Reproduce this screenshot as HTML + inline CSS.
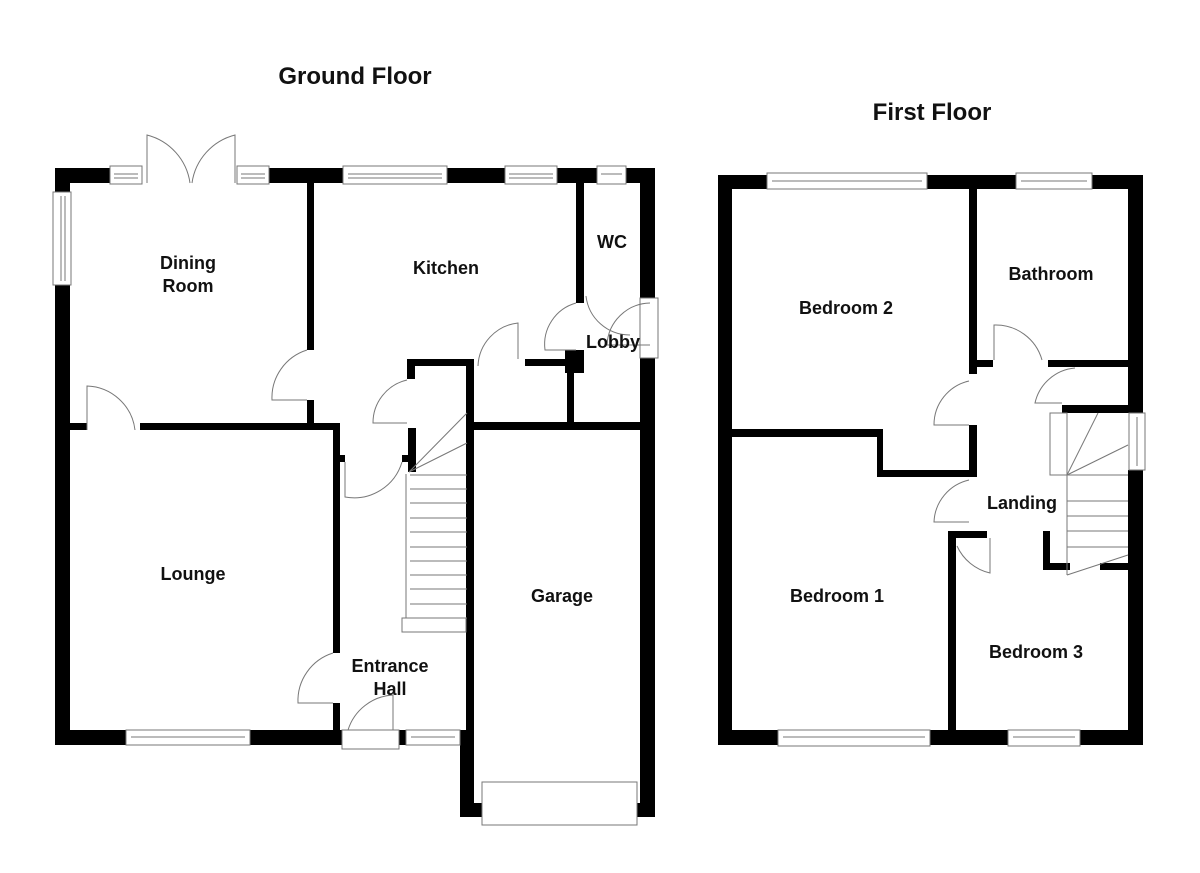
<!DOCTYPE html>
<html><head><style>
html,body{margin:0;padding:0;background:#fff;}
svg{display:block}
text{font-family:"Liberation Sans",Arial,sans-serif;font-weight:bold;fill:#111;}
</style></head><body>
<svg width="1200" height="873" viewBox="0 0 1200 873" xmlns="http://www.w3.org/2000/svg">
<text x="355" y="84" font-size="24" text-anchor="middle">Ground Floor</text>
<text x="932" y="120" font-size="24" text-anchor="middle">First Floor</text>

<g fill="#000">
<!-- Ground floor outer -->
<rect x="55" y="168" width="55" height="15"/>
<rect x="269" y="168" width="74" height="15"/>
<rect x="447" y="168" width="58" height="15"/>
<rect x="557" y="168" width="40" height="15"/>
<rect x="626" y="168" width="29" height="15"/>
<rect x="55" y="168" width="15" height="24"/>
<rect x="55" y="285" width="15" height="460"/>
<rect x="55" y="730" width="71" height="15"/>
<rect x="250" y="730" width="92" height="15"/>
<rect x="399" y="730" width="7" height="15"/>
<rect x="640" y="168" width="15" height="130"/>
<rect x="640" y="358" width="15" height="459"/>
<rect x="460" y="730" width="14" height="87"/>
<rect x="460" y="803" width="22" height="14"/>
<rect x="637" y="803" width="18" height="14"/>
<!-- interior -->
<rect x="307" y="183" width="7" height="167"/>
<rect x="307" y="400" width="7" height="30"/>
<rect x="70" y="423" width="17" height="7"/>
<rect x="140" y="423" width="200" height="7"/>
<rect x="333" y="423" width="7" height="230"/>
<rect x="333" y="703" width="7" height="40"/>
<rect x="340" y="455" width="5" height="7"/>
<rect x="402" y="455" width="6" height="7"/>
<rect x="407" y="359" width="61" height="7"/>
<rect x="407" y="359" width="8" height="20"/>
<rect x="408" y="428" width="8" height="44"/>
<rect x="466" y="359" width="8" height="458"/>
<rect x="474" y="422" width="166" height="8"/>
<rect x="567" y="366" width="7" height="56"/>
<rect x="525" y="359" width="40" height="7"/>
<rect x="565" y="350" width="19" height="23"/>
<rect x="576" y="183" width="8" height="120"/>
<!-- First floor outer -->
<rect x="718" y="175" width="49" height="14"/>
<rect x="927" y="175" width="89" height="14"/>
<rect x="1092" y="175" width="51" height="14"/>
<rect x="718" y="175" width="14" height="570"/>
<rect x="1128" y="175" width="15" height="238"/>
<rect x="1128" y="470" width="15" height="275"/>
<rect x="718" y="730" width="60" height="15"/>
<rect x="930" y="730" width="78" height="15"/>
<rect x="1080" y="730" width="63" height="15"/>
<!-- First floor interior -->
<rect x="969" y="189" width="8" height="185"/>
<rect x="969" y="425" width="8" height="52"/>
<rect x="732" y="429" width="151" height="8"/>
<rect x="877" y="429" width="6" height="48"/>
<rect x="877" y="470" width="100" height="7"/>
<rect x="977" y="360" width="16" height="7"/>
<rect x="1048" y="360" width="80" height="7"/>
<rect x="1062" y="405" width="66" height="8"/>
<rect x="948" y="531" width="39" height="7"/>
<rect x="948" y="531" width="8" height="200"/>
<rect x="1043" y="531" width="7" height="39"/>
<rect x="1043" y="563" width="27" height="7"/>
<rect x="1100" y="563" width="28" height="7"/>
</g>

<g fill="none" stroke="#777" stroke-width="1">
<!-- windows ground -->
<rect x="110" y="166" width="32" height="18"/><line x1="114" y1="174" x2="138" y2="174"/><line x1="114" y1="178" x2="138" y2="178"/>
<rect x="237" y="166" width="32" height="18"/><line x1="241" y1="174" x2="265" y2="174"/><line x1="241" y1="178" x2="265" y2="178"/>
<rect x="343" y="166" width="104" height="18"/><line x1="348" y1="174" x2="442" y2="174"/><line x1="348" y1="178" x2="442" y2="178"/>
<rect x="505" y="166" width="52" height="18"/><line x1="509" y1="174" x2="553" y2="174"/><line x1="509" y1="178" x2="553" y2="178"/>
<rect x="597" y="166" width="29" height="18"/><line x1="601" y1="174" x2="622" y2="174"/>
<rect x="53" y="192" width="18" height="93"/><line x1="61" y1="196" x2="61" y2="281"/><line x1="65" y1="196" x2="65" y2="281"/>
<rect x="126" y="730" width="124" height="15"/><line x1="131" y1="737" x2="245" y2="737"/>
<rect x="406" y="730" width="54" height="15"/><line x1="411" y1="737" x2="455" y2="737"/>
<rect x="342" y="730" width="57" height="19"/>
<rect x="482" y="782" width="155" height="43"/>
<rect x="640" y="298" width="18" height="60"/>
<!-- French doors -->
<path d="M147 183 V135 A58 58 0 0 1 190 183"/>
<path d="M235 183 V135 A58 58 0 0 0 192 183"/>
<!-- doors ground -->
<path d="M307 350 A50 50 0 0 0 272 400 H307"/>
<path d="M87 430 V386 A50 50 0 0 1 135 430"/>
<path d="M407 380 A44 44 0 0 0 373 423 H407"/>
<path d="M345 462 V497 A50 50 0 0 0 402 462"/>
<path d="M333 653 A50 50 0 0 0 298 703 H333"/>
<path d="M348 730 A50 50 0 0 1 393 695 V730"/>
<path d="M518 359 V323 A45 45 0 0 0 478 366"/>
<path d="M576 303 A43 43 0 0 0 545 350 H576"/>
<path d="M586 296 A44 44 0 0 0 630 335"/>
<path d="M650 303 A44 44 0 0 0 607 345 H650"/>
<!-- stairs ground -->
<g>
<line x1="406" y1="474" x2="406" y2="618"/>
<line x1="410" y1="475" x2="467" y2="475"/><line x1="410" y1="489" x2="467" y2="489"/>
<line x1="410" y1="503" x2="467" y2="503"/><line x1="410" y1="518" x2="467" y2="518"/>
<line x1="410" y1="532" x2="467" y2="532"/><line x1="410" y1="547" x2="467" y2="547"/>
<line x1="410" y1="561" x2="467" y2="561"/><line x1="410" y1="575" x2="467" y2="575"/>
<line x1="410" y1="589" x2="467" y2="589"/><line x1="410" y1="604" x2="467" y2="604"/>
<line x1="410" y1="618" x2="467" y2="618"/>
<rect x="402" y="618" width="64" height="14"/>
<line x1="409" y1="472" x2="467" y2="443"/><line x1="409" y1="472" x2="467" y2="413"/>
</g>
<!-- first floor windows -->
<rect x="767" y="173" width="160" height="16"/><line x1="772" y1="181" x2="922" y2="181"/>
<rect x="1016" y="173" width="76" height="16"/><line x1="1021" y1="181" x2="1087" y2="181"/>
<rect x="778" y="730" width="152" height="16"/><line x1="783" y1="737" x2="925" y2="737"/>
<rect x="1008" y="730" width="72" height="16"/><line x1="1013" y1="737" x2="1075" y2="737"/>
<rect x="1129" y="413" width="16" height="57"/><line x1="1137" y1="417" x2="1137" y2="466"/>
<!-- first floor doors -->
<path d="M969 381 A45 45 0 0 0 934 425 H969"/>
<path d="M969 480 A45 45 0 0 0 934 522 H969"/>
<path d="M994 360 V325 A48 48 0 0 1 1042 360"/>
<path d="M1075 368 A45 45 0 0 0 1035 403 H1062"/>
<path d="M990 538 V573 A48 48 0 0 1 957 546"/>
<!-- first floor stairs -->
<rect x="1050" y="413" width="17" height="62"/>
<line x1="1067" y1="413" x2="1067" y2="575"/>
<line x1="1067" y1="475" x2="1098" y2="413"/>
<line x1="1067" y1="475" x2="1128" y2="445"/>
<line x1="1067" y1="475" x2="1128" y2="475"/>
<line x1="1067" y1="501" x2="1128" y2="501"/>
<line x1="1067" y1="516" x2="1128" y2="516"/>
<line x1="1067" y1="531" x2="1128" y2="531"/>
<line x1="1067" y1="547" x2="1128" y2="547"/>
<line x1="1067" y1="575" x2="1128" y2="555"/>
</g>

<g font-size="18" text-anchor="middle">
<text x="188" y="269">Dining</text><text x="188" y="292">Room</text>
<text x="446" y="274">Kitchen</text>
<text x="612" y="248">WC</text>
<text x="613" y="348">Lobby</text>
<text x="193" y="580">Lounge</text>
<text x="562" y="602">Garage</text>
<text x="390" y="672">Entrance</text><text x="390" y="695">Hall</text>
<text x="846" y="314">Bedroom 2</text>
<text x="1051" y="280">Bathroom</text>
<text x="1022" y="509">Landing</text>
<text x="837" y="602">Bedroom 1</text>
<text x="1036" y="658">Bedroom 3</text>
</g>
</svg>
</body></html>
